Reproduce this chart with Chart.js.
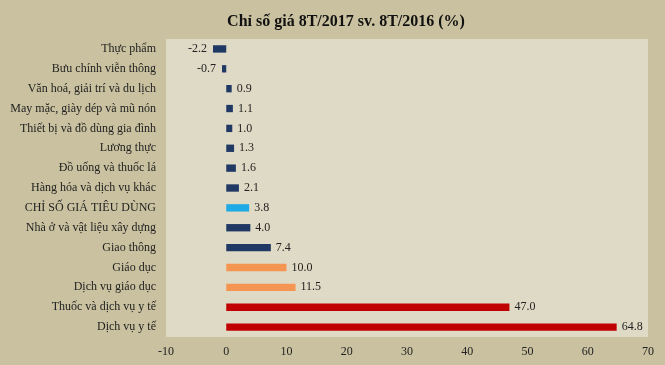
<!DOCTYPE html>
<html>
<head>
<meta charset="utf-8">
<script src="https://cdn.jsdelivr.net/npm/chart.js@4"></script>
<style>
  html, body { margin: 0; padding: 0; background: #c9c19f; }
  #wrap { width: 665px; height: 365px; }
</style>
</head>
<body>
<div id="wrap"><canvas id="cpiChart"></canvas></div>
<script>
const categories = [
    'Thực phẩm',
    'Bưu chính viễn thông',
    'Văn hoá, giải trí và du lịch',
    'May mặc, giày dép và mũ nón',
    'Thiết bị và đồ dùng gia đình',
    'Lương thực',
    'Đồ uống và thuốc lá',
    'Hàng hóa và dịch vụ khác',
    'CHỈ SỐ GIÁ TIÊU DÙNG',
    'Nhà ở và vật liệu xây dựng',
    'Giao thông',
    'Giáo dục',
    'Dịch vụ giáo dục',
    'Thuốc và dịch vụ y tế',
    'Dịch vụ y tế'
];
const values = [-2.2, -0.7, 0.9, 1.1, 1.0, 1.3, 1.6, 2.1, 3.8, 4.0, 7.4, 10.0, 11.5, 47.0, 64.8];
const groups = ['other', 'other', 'other', 'other', 'other', 'other', 'other', 'other', 'cpi', 'other', 'other', 'edu', 'edu', 'health', 'health'];
const xTicks = [-10, 0, 10, 20, 30, 40, 50, 60, 70];
const chartTitle = 'Chỉ số giá 8T/2017 sv. 8T/2016 (%)';

const groupColors = { other: '#1f3864', cpi: '#1eaae4', edu: '#f59552', health: '#c00000' };
const serif = '"Liberation Serif", "DejaVu Serif", serif';

// light panel behind the plot area + the title (sits a bit right of centre, like the original)
const plotBackground = {
    id: 'plotBackground',
    beforeDraw(chart) {
        const { ctx, chartArea: a } = chart;
        ctx.save();
        ctx.fillStyle = '#dfdac5';
        ctx.fillRect(a.left, a.top, a.right - a.left, a.bottom - a.top);
        ctx.font = 'bold 16px ' + serif;
        ctx.fillStyle = '#111';
        ctx.textAlign = 'center';
        ctx.textBaseline = 'middle';
        ctx.fillText(chartTitle, 346, 22);
        ctx.restore();
    }
};

// value labels: right of positive bars, left of negative ones
const valueLabels = {
    id: 'valueLabels',
    afterDatasetsDraw(chart) {
        const ctx = chart.ctx;
        const meta = chart.getDatasetMeta(0);
        ctx.save();
        ctx.font = '12px ' + serif;
        ctx.fillStyle = '#222';
        ctx.textBaseline = 'middle';
        meta.data.forEach((bar, i) => {
            const v = values[i];
            const text = v.toFixed(1);
            if (v < 0) {
                ctx.textAlign = 'right';
                ctx.fillText(text, bar.x - 6, bar.y);
            } else {
                ctx.textAlign = 'left';
                ctx.fillText(text, bar.x + 5, bar.y);
            }
        });
        ctx.restore();
    }
};

new Chart(document.getElementById('cpiChart'), {
    type: 'bar',
    data: {
        labels: categories,
        datasets: [{
            data: values,
            backgroundColor: groups.map(g => groupColors[g]),
            categoryPercentage: 1,
            barPercentage: 0.37
        }]
    },
    options: {
        indexAxis: 'y',
        responsive: true,
        maintainAspectRatio: false,
        animation: false,
        layout: { padding: { left: 0, right: 17, top: 39, bottom: 0 } },
        plugins: {
            legend: { display: false },
            tooltip: { enabled: false },
            title: { display: false }
        },
        scales: {
            x: {
                min: -10,
                max: 70,
                afterBuildTicks: scale => { scale.ticks = xTicks.map(v => ({ value: v })); },
                afterFit: scale => { scale.height = 28; },
                grid: { display: false, drawTicks: false },
                border: { display: false },
                ticks: { color: '#222', padding: 8, font: { family: serif, size: 12 } }
            },
            y: {
                afterFit: scale => { scale.width = 166; },
                grid: { display: false, drawTicks: false },
                border: { display: false },
                ticks: { color: '#222', padding: 10, font: { family: serif, size: 12 } }
            }
        }
    },
    plugins: [plotBackground, valueLabels]
});
</script>
</body>
</html>
